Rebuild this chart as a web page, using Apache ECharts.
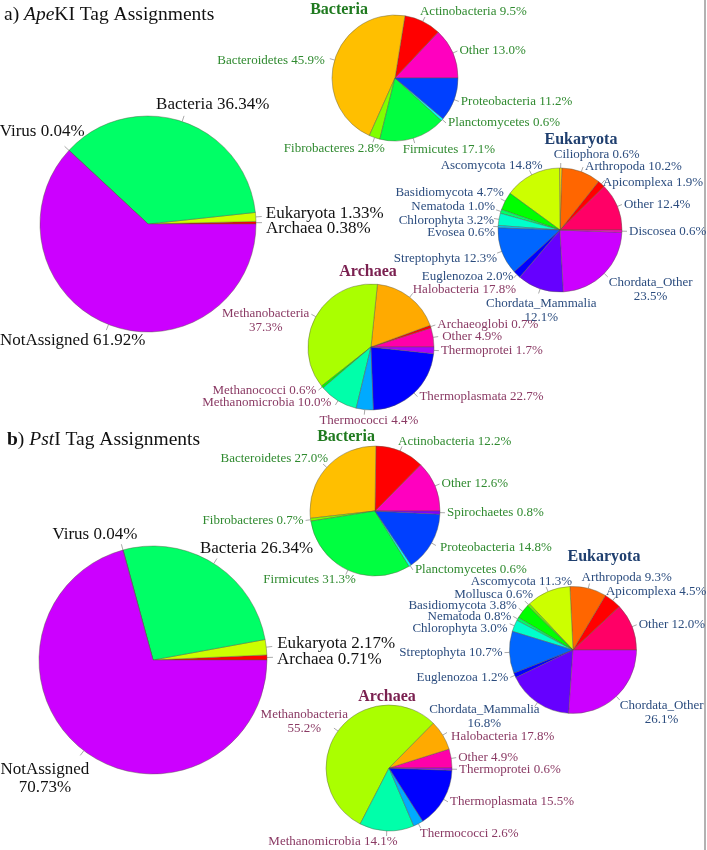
<!DOCTYPE html>
<html>
<head>
<meta charset="utf-8">
<script src="https://cdn.jsdelivr.net/npm/echarts@6/dist/echarts.min.js"></script>
<style>
html,body{margin:0;padding:0;background:#fff;}
#chart{width:707px;height:850px;}
</style>
</head>
<body>
<div id="chart"></div>
<script>
// ---------- DATA (order = counter-clockwise from 3 o'clock) ----------
// a) ApeKI
const domainsA = ['Archaea', 'Eukaryota', 'Bacteria', 'Virus', 'NotAssigned'];
const domainsAValues = [0.38, 1.33, 36.34, 0.04, 61.92];
const domainsALabels = ['Archaea 0.38%', 'Eukaryota 1.33%', 'Bacteria 36.34%', 'Virus 0.04%', 'NotAssigned 61.92%'];

const bacteriaA = ['Other', 'Actinobacteria', 'Bacteroidetes', 'Fibrobacteres', 'Firmicutes', 'Planctomycetes', 'Proteobacteria'];
const bacteriaAValues = [13.0, 9.5, 45.9, 2.8, 17.1, 0.6, 11.2];
const bacteriaALabels = ['Other 13.0%', 'Actinobacteria 9.5%', 'Bacteroidetes 45.9%', 'Fibrobacteres 2.8%', 'Firmicutes 17.1%', 'Planctomycetes 0.6%', 'Proteobacteria 11.2%'];

const eukaryotaA = ['Other', 'Apicomplexa', 'Arthropoda', 'Ciliophora', 'Ascomycota', 'Basidiomycota', 'Nematoda', 'Chlorophyta', 'Evosea', 'Streptophyta', 'Euglenozoa', 'Chordata_Mammalia', 'Chordata_Other', 'Discosea'];
const eukaryotaAValues = [12.4, 1.9, 10.2, 0.6, 14.8, 4.7, 1.0, 3.2, 0.6, 12.3, 2.0, 12.1, 23.5, 0.6];
const eukaryotaALabels = ['Other 12.4%', 'Apicomplexa 1.9%', 'Arthropoda 10.2%', 'Ciliophora 0.6%', 'Ascomycota 14.8%', 'Basidiomycota 4.7%', 'Nematoda 1.0%', 'Chlorophyta 3.2%', 'Evosea 0.6%', 'Streptophyta 12.3%', 'Euglenozoa 2.0%', 'Chordata_Mammalia\n12.1%', 'Chordata_Other\n23.5%', 'Discosea 0.6%'];

const archaeaA = ['Other', 'Archaeoglobi', 'Halobacteria', 'Methanobacteria', 'Methanococci', 'Methanomicrobia', 'Thermococci', 'Thermoplasmata', 'Thermoprotei'];
const archaeaAValues = [4.9, 0.7, 17.8, 37.3, 0.6, 10.0, 4.4, 22.7, 1.7];
const archaeaALabels = ['Other 4.9%', 'Archaeoglobi 0.7%', 'Halobacteria 17.8%', 'Methanobacteria\n37.3%', 'Methanococci 0.6%', 'Methanomicrobia 10.0%', 'Thermococci 4.4%', 'Thermoplasmata 22.7%', 'Thermoprotei 1.7%'];

// b) PstI
const domainsB = ['Archaea', 'Eukaryota', 'Bacteria', 'Virus', 'NotAssigned'];
const domainsBValues = [0.71, 2.17, 26.34, 0.04, 70.73];
const domainsBLabels = ['Archaea 0.71%', 'Eukaryota 2.17%', 'Bacteria 26.34%', 'Virus 0.04%', 'NotAssigned\n70.73%'];

const bacteriaB = ['Other', 'Actinobacteria', 'Bacteroidetes', 'Fibrobacteres', 'Firmicutes', 'Planctomycetes', 'Proteobacteria', 'Spirochaetes'];
const bacteriaBValues = [12.6, 12.2, 27.0, 0.7, 31.3, 0.6, 14.8, 0.8];
const bacteriaBLabels = ['Other 12.6%', 'Actinobacteria 12.2%', 'Bacteroidetes 27.0%', 'Fibrobacteres 0.7%', 'Firmicutes 31.3%', 'Planctomycetes 0.6%', 'Proteobacteria 14.8%', 'Spirochaetes 0.8%'];

const eukaryotaB = ['Other', 'Apicomplexa', 'Arthropoda', 'Ascomycota', 'Mollusca', 'Basidiomycota', 'Nematoda', 'Chlorophyta', 'Streptophyta', 'Euglenozoa', 'Chordata_Mammalia', 'Chordata_Other'];
const eukaryotaBValues = [12.0, 4.5, 9.3, 11.3, 0.6, 3.8, 0.8, 3.0, 10.7, 1.2, 16.8, 26.1];
const eukaryotaBLabels = ['Other 12.0%', 'Apicomplexa 4.5%', 'Arthropoda 9.3%', 'Ascomycota 11.3%', 'Mollusca 0.6%', 'Basidiomycota 3.8%', 'Nematoda 0.8%', 'Chlorophyta 3.0%', 'Streptophyta 10.7%', 'Euglenozoa 1.2%', 'Chordata_Mammalia\n16.8%', 'Chordata_Other\n26.1%'];

const archaeaB = ['Other', 'Halobacteria', 'Methanobacteria', 'Methanomicrobia', 'Thermococci', 'Thermoplasmata', 'Thermoprotei'];
// slice drawn ~7.8% (the figure prints "17.8%" for Halobacteria)
const archaeaBValues = [4.9, 7.8, 55.2, 14.1, 2.6, 15.5, 0.6];
const archaeaBLabels = ['Other 4.9%', 'Halobacteria 17.8%', 'Methanobacteria\n55.2%', 'Methanomicrobia 14.1%', 'Thermococci 2.6%', 'Thermoplasmata 15.5%', 'Thermoprotei 0.6%'];

// ---------- STYLE ----------
const colorDomains = {Archaea:'#FF0000', Eukaryota:'#CCFF00', Bacteria:'#00FF66', Virus:'#0066FF', NotAssigned:'#CC00FF'};
const colorBacteria = {Actinobacteria:'#FF0000', Bacteroidetes:'#FFBF00', Fibrobacteres:'#80FF00', Firmicutes:'#00FF40', Planctomycetes:'#00FFFF', Proteobacteria:'#0040FF', Spirochaetes:'#8000FF', Other:'#FF00BF'};
const colorEukaryota = {Apicomplexa:'#FF0000', Arthropoda:'#FF6600', Ciliophora:'#FFCC00', Ascomycota:'#CCFF00', Mollusca:'#66FF00', Basidiomycota:'#00FF00', Nematoda:'#00FF66', Chlorophyta:'#00FFCC', Evosea:'#00CCFF', Streptophyta:'#0066FF', Euglenozoa:'#0000FF', Chordata_Mammalia:'#6600FF', Chordata_Other:'#CC00FF', Discosea:'#FF00CC', Other:'#FF0066'};
const colorArchaea = {Archaeoglobi:'#FF0000', Halobacteria:'#FFAA00', Methanobacteria:'#AAFF00', Methanococci:'#00FF00', Methanomicrobia:'#00FFAA', Thermococci:'#00AAFF', Thermoplasmata:'#0000FF', Thermoprotei:'#AA00FF', Other:'#FF00AA'};

// label nudges (px) relative to the library's own outside-label position
const nudgeDomainsA = {Archaea:[1,6], Eukaryota:[1,-3], Bacteria:[-31,-11], Virus:[23,-15], NotAssigned:[42,10]};
const nudgeBacteriaA = {Actinobacteria:[-7,-5], Bacteroidetes:[-3,2], Fibrobacteres:[14,6], Firmicutes:[-14,6]};
const nudgeEukaryotaA = {Apicomplexa:[-4,2], Ciliophora:[-9,-8], Ascomycota:[15,-5], Basidiomycota:[5,-6], Nematoda:[1,-3], Chlorophyta:[2,2], Evosea:[4,6], Streptophyta:[2,5], Euglenozoa:[2,-2], Chordata_Mammalia:[60,17], Chordata_Other:[-1,13]};
const nudgeArchaeaA = {Other:[2,0], Halobacteria:[-2,-4], Methanobacteria:[0,6], Methanomicrobia:[-2,-2], Thermococci:[56,6]};
const nudgeDomainsB = {Archaea:[1,2], Eukaryota:[2,-3], Bacteria:[-20,-10], Virus:[19,-10], NotAssigned:[12,23]};
const nudgeBacteriaB = {Actinobacteria:[-6,-5], Bacteroidetes:[7,-5], Firmicutes:[12,5], Proteobacteria:[2,2]};
const nudgeEukaryotaB = {Apicomplexa:[-12,-5], Arthropoda:[-10,-6], Ascomycota:[28,-5], Mollusca:[10,-7], Basidiomycota:[0,-3], Chlorophyta:[0,5], Chordata_Mammalia:[7,10], Chordata_Other:[-2,13]};
const nudgeArchaeaB = {Halobacteria:[2,4], Methanobacteria:[16,-7], Methanomicrobia:[13,6], Thermococci:[-3,5]};

const SERIF = '"Liberation Serif", "Times New Roman", serif';
const txtBac = '#2f8a2f', txtEuk = '#2b4c7e', txtArc = '#8a3a64';

function pie(names, values, labels, colors, nudge, center, radius, txtColor, fontSize, lineLen, dist) {
  return {
    type: 'pie',
    center: center,
    radius: radius,
    startAngle: 0,
    clockwise: false,
    animation: false,
    silent: true,
    avoidLabelOverlap: false,
    data: names.map((n, i) => ({name: n, value: values[i], itemStyle: {color: colors[n]}})),
    itemStyle: {borderColor: 'rgba(90,90,70,0.55)', borderWidth: 0.8},
    label: {
      show: true, position: 'outside', overflow: 'none',
      distanceToLabelLine: dist,
      formatter: (p) => '{c|' + labels[p.dataIndex].split('\n').join('}\n{c|') + '}',
      rich: {c: {align: 'center', fontFamily: SERIF, fontSize: fontSize, color: txtColor, lineHeight: fontSize + 1}},
      fontFamily: SERIF, fontSize: fontSize, color: txtColor,
      lineHeight: fontSize + 1
    },
    labelLine: {show: true, length: lineLen, length2: 0, lineStyle: {color: '#aaa', width: 1}},
    labelLayout: (p) => {
      const d = nudge[names[p.dataIndex]];
      return d ? {dx: d[0], dy: d[1]} : {};
    },
    emphasis: {disabled: true}
  };
}

const chart = echarts.init(document.getElementById('chart'), null, {renderer: 'canvas'});
chart.setOption({
  backgroundColor: '#fff',
  series: [
    pie(domainsA, domainsAValues, domainsALabels, colorDomains, nudgeDomainsA, [148, 224], 108, '#111', 17, 6, 3),
    pie(bacteriaA, bacteriaAValues, bacteriaALabels, colorBacteria, nudgeBacteriaA, [395, 78], 63, txtBac, 13, 5, 2),
    pie(eukaryotaA, eukaryotaAValues, eukaryotaALabels, colorEukaryota, nudgeEukaryotaA, [560, 230], 62, txtEuk, 13, 5, 2),
    pie(archaeaA, archaeaAValues, archaeaALabels, colorArchaea, nudgeArchaeaA, [371, 347], 63, txtArc, 13, 5, 2),
    pie(domainsB, domainsBValues, domainsBLabels, colorDomains, nudgeDomainsB, [153, 660], 114, '#111', 17, 6, 3),
    pie(bacteriaB, bacteriaBValues, bacteriaBLabels, colorBacteria, nudgeBacteriaB, [375, 511], 65, txtBac, 13, 5, 2),
    pie(eukaryotaB, eukaryotaBValues, eukaryotaBLabels, colorEukaryota, nudgeEukaryotaB, [573, 650], 63.5, txtEuk, 13, 5, 2),
    pie(archaeaB, archaeaBValues, archaeaBLabels, colorArchaea, nudgeArchaeaB, [389, 768], 63, txtArc, 13, 5, 2)
  ],
  graphic: [
    {type: 'line', shape: {x1: 705, y1: 0, x2: 705, y2: 850}, style: {stroke: '#999', lineWidth: 1.5}},
    {type: 'text', x: 4, y: 15, style: {
      text: '{n|a) }{i|Ape}{n|KI Tag Assignments}', textVerticalAlign: 'middle',
      rich: {n: {fontFamily: SERIF, fontSize: 19.5, fill: '#111'}, i: {fontFamily: SERIF, fontSize: 19.5, fontStyle: 'italic', fill: '#111'}}
    }},
    {type: 'text', x: 7, y: 440, style: {
      text: '{b|b}{n|) }{i|Pst}{n|I Tag Assignments}', textVerticalAlign: 'middle',
      rich: {n: {fontFamily: SERIF, fontSize: 19.5, fill: '#111'}, b: {fontFamily: SERIF, fontSize: 19.5, fontWeight: 'bold', fill: '#111'}, i: {fontFamily: SERIF, fontSize: 19.5, fontStyle: 'italic', fill: '#111'}}
    }},
    {type: 'text', x: 339, y: 10, style: {text: 'Bacteria', textAlign: 'center', textVerticalAlign: 'middle', font: 'bold 16px ' + SERIF, fill: '#1f7a1f'}},
    {type: 'text', x: 581, y: 140, style: {text: 'Eukaryota', textAlign: 'center', textVerticalAlign: 'middle', font: 'bold 16px ' + SERIF, fill: '#1f3f6f'}},
    {type: 'text', x: 368, y: 272, style: {text: 'Archaea', textAlign: 'center', textVerticalAlign: 'middle', font: 'bold 16px ' + SERIF, fill: '#7a2050'}},
    {type: 'text', x: 346, y: 437, style: {text: 'Bacteria', textAlign: 'center', textVerticalAlign: 'middle', font: 'bold 16px ' + SERIF, fill: '#1f7a1f'}},
    {type: 'text', x: 604, y: 557, style: {text: 'Eukaryota', textAlign: 'center', textVerticalAlign: 'middle', font: 'bold 16px ' + SERIF, fill: '#1f3f6f'}},
    {type: 'text', x: 387, y: 697, style: {text: 'Archaea', textAlign: 'center', textVerticalAlign: 'middle', font: 'bold 16px ' + SERIF, fill: '#7a2050'}}
  ]
});
</script>
</body>
</html>
